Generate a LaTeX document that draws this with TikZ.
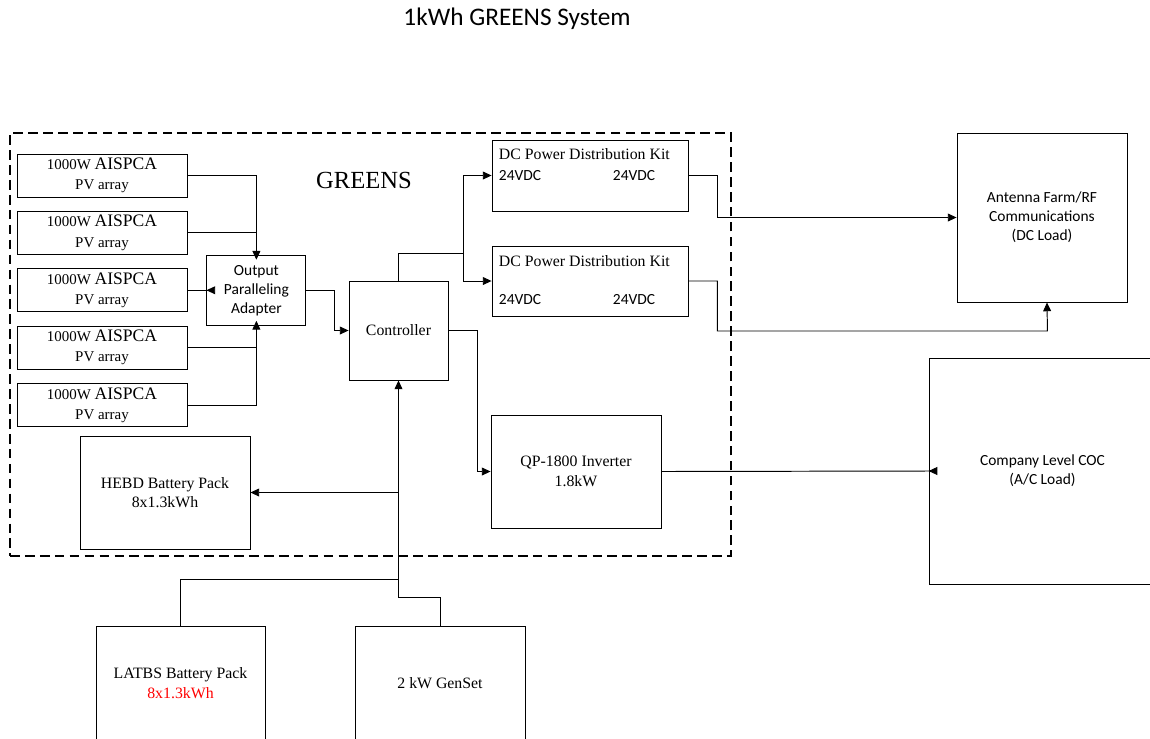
\documentclass[tikz,border=0pt]{standalone}
\usepackage{fontspec}
\setmainfont{Liberation Serif}
\newfontfamily\calibri{Carlito}
\usepackage{tikz}
\usetikzlibrary{positioning, arrows.meta, calc}
\tikzset{unit_s/.style={draw, line width=0.5pt, align=center, inner sep=0pt, font=\fontsize{9}{11}\selectfont},
unit_c/.style={draw, line width=0.5pt, align=center, inner sep=0pt, font=\calibri\fontsize{8.8}{10.8}\selectfont},
pv_t/.style={unit_s, minimum width=34mm, minimum height=8.6mm, font=\fontsize{8.5}{11.5}\selectfont},
frame/.style={draw, dash pattern=on 5.5pt off 3pt, line width=0.6pt, inner sep=0pt},
txt_s/.style={font=\fontsize{9}{11}\selectfont, inner sep=0pt},
txt_c/.style={font=\calibri\fontsize{8.8}{10.8}\selectfont, inner sep=0pt},
wire/.style={line width=0.55pt},
flow/.style={wire, -{Triangle[length=5pt, width=4.5pt]}},
flow_in/.style={flow, shorten >=-2.8pt},
flow_back/.style={wire, -{Triangle[length=5pt, width=4.5pt, reversed]}, shorten >=-5pt}}
\newcommand{\pvtext}{1000W {\fontsize{10}{11.5}\selectfont AISPCA}\\PV array}

\begin{document}
\begin{tikzpicture}[x=0.2mm, y=-0.2mm, node distance=2.7mm and 3.8mm]
  \useasboundingbox (0,0) rectangle (1150,738);
  \node[font=\calibri\fontsize{14.4}{17}\selectfont] (title) at (517,19) {1kWh GREENS System};
  \node[frame, minimum width=144.2mm, minimum height=84.6mm] (greens) at (370.5,344.5) {};
  \node[font=\fontsize{14}{16}\selectfont] (greens_t) at (364,180) {GREENS};

  \node[pv_t] (pv1) at (102,175.5) {\pvtext};
  \node[pv_t, below=of pv1] (pv2) {\pvtext};
  \node[pv_t, below=of pv2] (pv3) {\pvtext};
  \node[pv_t, below=of pv3] (pv4) {\pvtext};
  \node[pv_t, below=of pv4] (pv5) {\pvtext};
  \node[unit_c, right=of pv3, minimum width=19.8mm, minimum height=14mm] (adapter) {Output\\ Paralleling\\ Adapter};
  \node[unit_s, minimum width=19.8mm, minimum height=19.8mm] (ctrl) at (398.5,330.5) {Controller};
  \node[unit_s, minimum width=39.2mm, minimum height=14.2mm] (dc1) at (590,175.5) {};
  \node[unit_s, minimum width=39.2mm, minimum height=14mm] (dc2) at (590,281) {};
  \node[txt_s, anchor=west] (dc1_t) at ($(dc1.north west)+(7,15)$) {DC Power Distribution Kit};
  \node[txt_c, anchor=west] (dc1_a) at ($(dc1.north west)+(7,36)$) {24VDC};
  \node[txt_c, anchor=west] (dc1_b) at ($(dc1.north west)+(121,36)$) {24VDC};
  \node[txt_s, anchor=west] (dc2_t) at ($(dc2.north west)+(7,16)$) {DC Power Distribution Kit};
  \node[txt_c, anchor=west] (dc2_a) at ($(dc2.north west)+(7,54)$) {24VDC};
  \node[txt_c, anchor=west] (dc2_b) at ($(dc2.north west)+(121,54)$) {24VDC};
  \node[unit_s, minimum width=34mm, minimum height=22.6mm] (inv) at (576,471.5) {QP-1800 Inverter\\ 1.8kW};
  \node[unit_s, minimum width=34mm, minimum height=22.6mm] (hebd) at (165,492.5) {HEBD Battery Pack\\ 8x1.3kWh};
  \node[unit_c, minimum width=34mm, minimum height=33.8mm] (ant) at (1042,217.5) {Antenna Farm/RF\\ Communications\\ (DC Load)};
  \node[unit_c, minimum width=45.4mm, minimum height=45.2mm] (coc) at (1042.5,471) {Company Level COC\\ (A/C Load)};
  \node[unit_s, minimum width=33.8mm, minimum height=22.8mm] (latbs) at (180.5,683) {LATBS Battery Pack\\ \textcolor{red}{8x1.3kWh}};
  \node[unit_s, minimum width=34mm, minimum height=22.8mm] (gen) at (440,683) {2 kW GenSet};

  \coordinate (dc_split) at (463,253);
  \coordinate (bus_a) at (398.5,579);
  \coordinate (bus_b) at (398.5,597);
  \coordinate (ant_in) at ($(ant.south)+(5,0)$);

  \draw[flow_in] (pv1.east) -| (adapter.north);
  \draw[wire] (pv2.east) -| (adapter.north);
  \draw[flow_back] (pv3.east) -- (adapter.west);
  \draw[flow_in] (pv4.east) -| (adapter.south);
  \draw[wire] (pv5.east) -| (adapter.south);
  \draw[flow] (adapter.east) -- ++(28,0) |- (ctrl.west);
  \draw[wire] (ctrl.north) |- (dc_split);
  \draw[flow] (dc_split) |- (dc1.west);
  \draw[flow] (dc_split) |- (dc2.west);
  \draw[flow] (dc1.east) -- ++(29,0) |- (ant.west);
  \draw[flow] (dc2.east) -- ++(29,0) |- ++(330,50) -- (ant_in);
  \draw[flow] (ctrl.east) -- ++(29,0) |- (inv.west);
  \draw[flow_back] (inv.east) -- (coc.west);
  \draw[flow] (ctrl.south) |- (hebd.east);
  \draw[flow] (latbs.north) |- (bus_a) -- (ctrl.south);
  \draw[wire] (gen.north) |- (bus_b) -- (bus_a);
\end{tikzpicture}
\end{document}
